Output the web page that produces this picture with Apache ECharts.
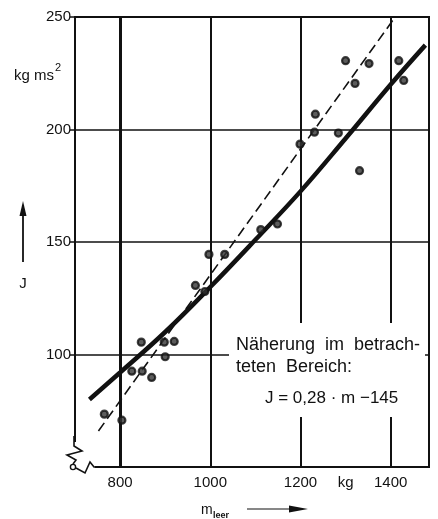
<!DOCTYPE html>
<html>
<head>
<meta charset="utf-8">
<script src="https://cdn.jsdelivr.net/npm/echarts@6/dist/echarts.min.js"></script>
<style>
html,body{margin:0;padding:0;background:#fff;}
#c{width:438px;height:519px;}
</style>
</head>
<body>
<div id="c"></div>
<script>
// Measured points (m_leer in kg, J in kg m s^2)
const scatterM = [765, 804, 826, 849, 847, 870, 898, 900, 920, 967, 988, 997, 1032, 1112, 1149, 1199, 1231, 1233, 1284, 1300, 1321, 1331, 1352, 1418, 1429];
const scatterJ = [73.5, 70.8, 92.6, 92.6, 105.5, 89.8, 105.5, 99, 105.8, 130.7, 128, 144.5, 144.5, 155.5, 158, 193.5, 198.8, 206.8, 198.4, 230.6, 220.5, 181.7, 229.3, 230.6, 221.8];
// Solid fitted curve
const curveM = [732, 800, 900, 1000, 1100, 1200, 1300, 1400, 1477];
const curveJ = [80, 92, 110, 130, 151, 172.5, 196, 220, 237.5];
// Dashed approximation line J = 0.28 m - 145
const approxM = [752, 1410];
const approxJ = [66, 250];
// Vertical grid lines
const vGridM = [800, 1000, 1200, 1400];
const xTickLabels = {800: '800', 1000: '1000', 1200: '1200', 1300: 'kg', 1400: '1400'};
const yTickLabels = {100: '100', 150: '150', 200: '200', 250: '250'};

const zip = (a, b) => a.map((v, i) => [v, b[i]]);
const FONT = 'Liberation Sans, Arial, sans-serif';
const INK = '#111';

const chart = echarts.init(document.getElementById('c'), null, {renderer: 'canvas'});
chart.setOption({
  animation: false,
  backgroundColor: '#fff',
  grid: {left: 75, right: 9, top: 17, bottom: 52, show: true, borderColor: INK, borderWidth: 2, backgroundColor: 'transparent'},
  xAxis: {
    type: 'value', min: 700, max: 1485, interval: 100,
    axisLine: {show: true, lineStyle: {color: INK, width: 2}},
    axisTick: {show: false},
    splitLine: {show: false},
    axisLabel: {
      color: INK, fontFamily: FONT, fontSize: 15, margin: 8,
      showMinLabel: false, showMaxLabel: false,
      formatter: v => xTickLabels[v] || ''
    }
  },
  yAxis: {
    type: 'value', min: 50, max: 250, interval: 50,
    axisLine: {show: true, lineStyle: {color: INK, width: 2}},
    axisTick: {show: true, length: 5, lineStyle: {color: INK, width: 1.5}},
    splitLine: {show: true, lineStyle: {color: INK, width: 1.5}},
    axisLabel: {
      color: INK, fontFamily: FONT, fontSize: 15, margin: 4,
      formatter: v => yTickLabels[v] || ''
    }
  },
  series: [
    {
      type: 'line', data: [], silent: true,
      markLine: {
        silent: true, symbol: 'none', label: {show: false},
        data: vGridM.map(m => ({xAxis: m, lineStyle: {color: INK, type: 'solid', width: m === 800 ? 3 : 2}}))
      }
    },
    {
      type: 'line', data: zip(approxM, approxJ), symbol: 'none', z: 3,
      lineStyle: {color: INK, width: 1.6, type: [10, 5]}
    },
    {
      type: 'line', data: zip(curveM, curveJ), symbol: 'none', smooth: 0.4, z: 4,
      lineStyle: {color: INK, width: 4.5}
    },
    {
      type: 'scatter', data: zip(scatterM, scatterJ), symbol: 'circle', symbolSize: 7, z: 5,
      itemStyle: {color: '#333', borderColor: INK, borderWidth: 2.2}
    }
  ],
  graphic: [
    // axis break
    {type: 'rect', z: 100, shape: {x: 60, y: 442, width: 35, height: 30}, style: {fill: '#fff'}},
    {type: 'polyline', z: 101, shape: {points: [[74, 436], [74, 446], [82, 451], [67, 455], [76, 460], [73, 464]]}, style: {stroke: INK, lineWidth: 1.6, fill: null}},
    {type: 'circle', z: 101, shape: {cx: 73, cy: 467, r: 2.6}, style: {stroke: INK, lineWidth: 1.4, fill: '#fff'}},
    {type: 'polyline', z: 101, shape: {points: [[76, 468], [85, 473], [90, 462], [94, 467], [100, 467]]}, style: {stroke: INK, lineWidth: 1.6, fill: null}},
    // y unit
    {type: 'text', z: 100, left: 14, top: 62, style: {text: '{a|kg ms}{s|2}', rich: {a: {fontFamily: FONT, fontSize: 15, fill: INK, verticalAlign: 'bottom'}, s: {fontFamily: FONT, fontSize: 11, fill: INK, verticalAlign: 'top', padding: [0, 0, 10, 1]}}}},
    // y label arrow and J
    {type: 'line', z: 100, shape: {x1: 23, y1: 262, x2: 23, y2: 212}, style: {stroke: INK, lineWidth: 1.8}},
    {type: 'polygon', z: 100, shape: {points: [[23, 201], [19.5, 216], [26.5, 216]]}, style: {fill: INK}},
    {type: 'text', z: 100, x: 23, y: 284, style: {text: 'J', fontFamily: FONT, fontSize: 15, fill: INK, align: 'center', verticalAlign: 'middle'}},
    // x label
    {type: 'text', z: 100, x: 201, y: 510, style: {text: 'm', fontFamily: FONT, fontSize: 14, fill: INK, verticalAlign: 'middle'}},
    {type: 'text', z: 100, x: 213, y: 516, style: {text: 'leer', fontFamily: FONT, fontSize: 9, fontWeight: 'bold', fill: INK, verticalAlign: 'middle'}},
    {type: 'line', z: 100, shape: {x1: 247, y1: 509, x2: 295, y2: 509}, style: {stroke: INK, lineWidth: 1.2}},
    {type: 'polygon', z: 100, shape: {points: [[308, 509], [289, 505.5], [289, 512.5]]}, style: {fill: INK}},
    // annotation box
    {type: 'rect', z: 100, shape: {x: 229, y: 323, width: 196, height: 94}, style: {fill: '#fff'}},
    {type: 'text', z: 101, x: 236, y: 345, style: {text: 'Näherung  im  betrach-', fontFamily: FONT, fontSize: 18, fill: INK, verticalAlign: 'middle'}},
    {type: 'text', z: 101, x: 236, y: 367, style: {text: 'teten  Bereich:', fontFamily: FONT, fontSize: 18, fill: INK, verticalAlign: 'middle'}},
    {type: 'text', z: 101, x: 265, y: 398, style: {text: 'J = 0,28 · m −145', fontFamily: FONT, fontSize: 17, fill: INK, verticalAlign: 'middle'}}
  ]
});
</script>
</body>
</html>
